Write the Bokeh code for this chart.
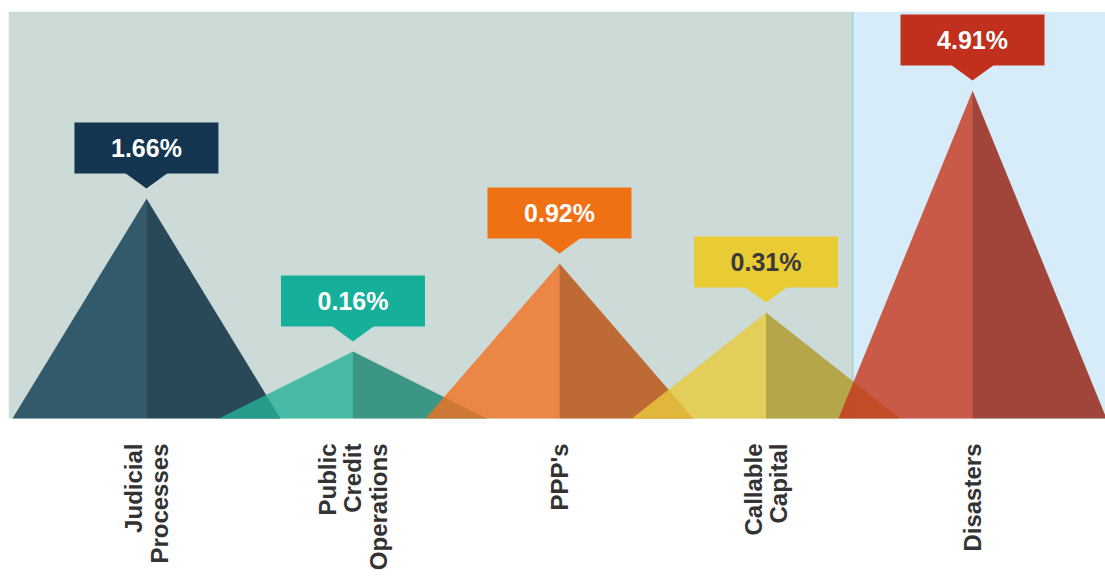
import numpy as np
from bokeh.plotting import figure
from bokeh.models import Range1d, ColumnDataSource
from bokeh.core.properties import value
from bokeh.embed import file_html
from bokeh.resources import INLINE

# ---- data ----
categories = ["Judicial\nProcesses", "Public\nCredit\nOperations", "PPP's",
              "Callable\nCapital", "Disasters"]
values = [1.66, 0.16, 0.92, 0.31, 4.91]
value_labels = ["1.66%", "0.16%", "0.92%", "0.31%", "4.91%"]
# drawn peak heights of the triangles (picture scale, not proportional to values)
peak_heights = [220, 67, 155, 106, 328]

# ---- styles ----
left_colors = ["#0C3A4F", "#25B198", "#F37122", "#E9CA3D", "#C5361C"]
right_colors = ["#002338", "#168470", "#BA4E0C", "#AF9829", "#931C0A"]
box_colors = ["#143550", "#16B09A", "#F07014", "#E9CB33", "#C0301C"]
text_colors = ["white", "white", "white", "#3A3A3A", "white"]

FRAME_W = 1097
TOP = 407          # panel height above the baseline
BOTTOM = -158      # white label area below the baseline
X0, X1 = -0.668, 4.644
PX = FRAME_W / (X1 - X0)          # pixels per x unit
HALF_W = 134 / PX                 # triangle half base
SEAM = 0.25 / PX
GAP, PTR_H, PTR_HW = 10, 15, 22 / PX
BOX_W, BOX_H = 144, 51
BLUE_START = 3.42

xs_pos = np.arange(len(categories), dtype=float)

p = figure(width=1105, height=576, output_backend="svg", toolbar_location=None,
           x_axis_location=None, y_axis_location=None,
           x_range=Range1d(X0, X1), y_range=Range1d(BOTTOM, TOP),
           min_border_left=8, min_border_right=0, min_border_top=11,
           min_border_bottom=0)
p.background_fill_color = "white"
p.border_fill_color = "white"
p.outline_line_color = None
p.grid.visible = False

# panel backgrounds
p.quad(left=[X0, BLUE_START], right=[BLUE_START, X1], bottom=[0, 0], top=[TOP, TOP],
       fill_color=["#CCDBD8", "#D6ECF8"], line_color=None)
p.segment(x0=[BLUE_START], y0=[0], x1=[BLUE_START], y1=[TOP],
          line_color="#B2D2DF", line_width=2)

# triangles (two shaded halves each)
txs, tys, tcols = [], [], []
for x, h, lc, rc in zip(xs_pos, peak_heights, left_colors, right_colors):
    txs.append([x - HALF_W, x + SEAM, x + SEAM]); tys.append([0, h, 0]); tcols.append(lc)
    txs.append([x, x, x + HALF_W]); tys.append([0, h, 0]); tcols.append(rc)
p.patches(xs=txs, ys=tys, fill_color=tcols, fill_alpha=0.8, line_color=None)

# callout pointers
pxs, pys = [], []
for x, h in zip(xs_pos, peak_heights):
    tip = h + GAP
    pxs.append([x - PTR_HW, x, x + PTR_HW])
    pys.append([tip + PTR_H + 1, tip, tip + PTR_H + 1])
p.patches(xs=pxs, ys=pys, fill_color=box_colors, line_color=None)

# callout boxes + value text
box_y = [h + GAP + PTR_H + BOX_H / 2 for h in peak_heights]
src = ColumnDataSource(dict(x=xs_pos, y=box_y, c=box_colors, t=value_labels,
                            tc=text_colors))
p.rect(x="x", y="y", width=BOX_W, height=BOX_H, width_units="screen",
       height_units="screen", fill_color="c", line_color=None, source=src)
p.text(x="x", y="y", text="t", text_color="tc", text_align="center",
       text_baseline="middle", text_font=value("Liberation Sans"),
       text_font_style="bold", text_font_size="25px", source=src)

# category labels (rotated, below the baseline)
lab = ColumnDataSource(dict(x=xs_pos, y=[-25] * len(categories), t=categories))
p.text(x="x", y="y", text="t", angle=np.pi / 2, text_align="right",
       text_baseline="middle", text_font=value("Liberation Sans"),
       text_font_style="bold", text_font_size="24px", text_color="#333333",
       text_line_height=0.95, source=lab)

open("out.html", "w").write(file_html(p, INLINE))
